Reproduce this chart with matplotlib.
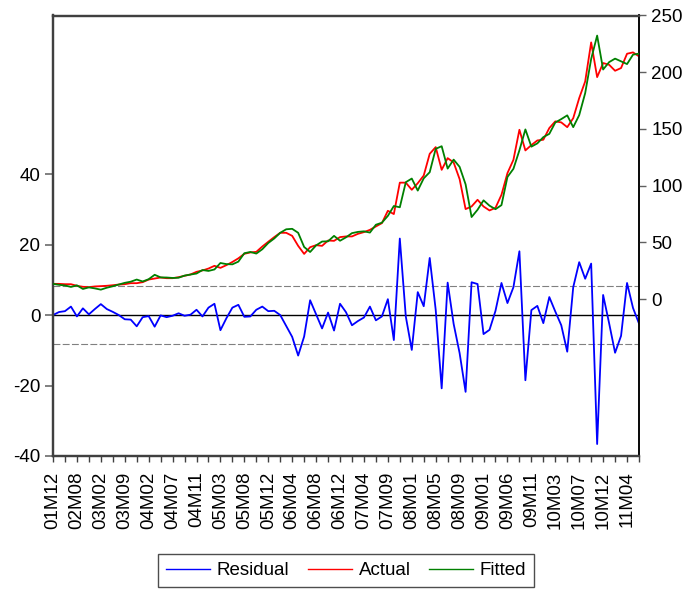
import matplotlib
matplotlib.use("Agg")
import matplotlib.pyplot as plt
from matplotlib.lines import Line2D
from matplotlib.ticker import FixedLocator

plt.rcParams['font.family'] = ['Liberation Sans', 'DejaVu Sans']

# Observation labels shown on the date axis (one every 4 observations)
tick_labels = ["01M12", "02M08", "03M02", "03M09", "04M02", "04M07", "04M11",
               "05M03", "05M08", "05M12", "06M04", "06M08", "06M12", "07M04",
               "07M09", "08M01", "08M05", "08M09", "09M01", "09M06", "09M11",
               "10M03", "10M07", "10M12", "11M04"]

residual = [0.0, 0.85, 1.1, 2.4, -0.4, 1.9, 0.2, 1.7, 3.1, 1.7,
            0.9, 0.0, -1.2, -1.3, -3.2, -0.6, -0.3, -3.3, -0.1, -0.6,
            -0.2, 0.5, -0.2, 0.1, 1.5, -0.4, 2.1, 3.2, -4.3, -0.9,
            2.1, 2.9, -0.5, -0.4, 1.5, 2.4, 1.1, 1.2, 0.0, -3.1,
            -6.2, -11.5, -6.1, 4.2, 0.2, -3.8, 0.7, -4.4, 3.2, 0.8,
            -2.9, -1.7, -0.7, 2.4, -1.5, -0.4, 4.5, -7.1, 21.7, -0.4,
            -9.9, 6.5, 2.5, 16.2, 1.5, -20.8, 9.2, -2.5, -10.8, -21.8,
            9.3, 8.8, -5.4, -4.2, 1.2, 9.1, 3.4, 7.9, 18.1, -18.5,
            1.4, 2.6, -2.3, 5.1, 1.0, -2.9, -10.4, 7.9, 15.0, 10.3,
            14.6, -36.6, 5.7, -2.3, -10.7, -5.9, 9.1, 2.0, -2.4]

actual = [13.5, 13.5, 13.2, 13.2, 11.8, 10.9, 10.6, 11.2, 11.5, 11.8,
          12.3, 12.9, 13.2, 14.1, 14.1, 15.0, 17.3, 18.2, 19.1, 18.5,
          18.5, 19.4, 20.6, 21.8, 24.1, 25.3, 27.0, 29.4, 27.6, 30.0,
          32.8, 36.0, 40.0, 41.2, 41.7, 46.4, 50.6, 54.7, 58.5, 58.5,
          55.8, 47.0, 39.9, 45.8, 47.6, 47.0, 51.7, 51.4, 54.7, 55.3,
          55.3, 57.6, 59.1, 61.1, 64.1, 67.0, 77.9, 75.0, 102.7, 102.7,
          96.4, 102.2, 109.0, 128.1, 134.0, 114.0, 124.3, 120.5, 105.8, 79.4,
          81.7, 87.6, 81.7, 78.2, 80.5, 92.0, 111.1, 122.8, 149.3, 131.1,
          135.8, 139.9, 140.5, 150.8, 156.7, 155.8, 151.6, 159.5, 177.2, 191.9,
          226.3, 195.7, 208.1, 206.6, 201.3, 203.7, 216.3, 217.5, 214.0]

fitted = [13.5, 12.65, 12.1, 10.8, 12.2, 9.0, 10.4, 9.5, 8.4, 10.1,
          11.4, 12.9, 14.4, 15.4, 17.3, 15.6, 17.6, 21.5, 19.2, 19.1,
          18.7, 18.9, 20.8, 21.7, 22.6, 25.7, 24.9, 26.2, 31.9, 30.9,
          30.7, 33.1, 40.5, 41.6, 40.2, 44.0, 49.5, 53.5, 58.5, 61.6,
          62.0, 58.5, 46.0, 41.6, 47.4, 50.8, 51.0, 55.8, 51.5, 54.5,
          58.2, 59.3, 59.8, 58.7, 65.6, 67.4, 73.4, 82.1, 81.0, 103.1,
          106.3, 95.7, 106.5, 111.9, 132.5, 134.8, 115.1, 123.0, 116.6, 101.2,
          72.4, 78.8, 87.1, 82.4, 79.3, 82.9, 107.7, 114.9, 131.2, 149.6,
          134.4, 137.3, 142.8, 145.7, 155.7, 158.7, 162.0, 151.6, 162.2, 181.6,
          211.7, 232.3, 202.4, 208.9, 212.0, 209.6, 207.2, 215.5, 216.4]

std_err = 8.2

left_ticks = [-40, -20, 0, 20, 40]
right_ticks = [0, 50, 100, 150, 200, 250]

W, H = 694, 589
n = len(actual)
x = list(range(n))

fig = plt.figure(figsize=(W / 100, H / 100), dpi=100)
ax = fig.add_axes([53 / W, 1 - 456 / H, (639 - 53) / W, (456 - 15.5) / H])
ax2 = ax.twinx()

FS = 13.5
lw = 1.3
blue, red, green = '#0000ff', '#ff0000', '#008000'

# residual panel (left scale)
ax.axhline(0, color='black', lw=1.0, zorder=1)
for lev in (std_err, -std_err):
    ax.axhline(lev, color='#808080', lw=0.8, dashes=(6.2, 2.1), zorder=1)
ax.plot(x, residual, color=blue, lw=lw, zorder=2)
ax.set_ylim(-40, 85)
ax.set_xlim(0, n - 1)
ax.yaxis.set_major_locator(FixedLocator(left_ticks))
ax.set_yticklabels([str(v) for v in left_ticks])

# actual / fitted (right scale)
ax2.plot(x, actual, color=red, lw=lw, zorder=2)
ax2.plot(x, fitted, color=green, lw=lw, zorder=3)
ax2.set_ylim(-138.2, 250)
ax2.yaxis.set_major_locator(FixedLocator(right_ticks))
ax2.set_yticklabels([str(v) for v in right_ticks])

# date axis
label_pos = list(range(0, n, 4))[:len(tick_labels)]
ax.set_xticks(label_pos)
ax.set_xticklabels(tick_labels, rotation=90, fontsize=FS, va='top')
ax.set_xticks([p for p in range(0, n, 2) if p % 4 != 0], minor=True)
ax.tick_params(axis='x', which='both', direction='out', length=4, width=1,
               color='#404040', pad=7)
ax.tick_params(axis='y', direction='out', length=6, width=1.4, color='#808080',
               labelsize=FS, pad=3)
ax2.tick_params(axis='y', direction='out', length=5, width=1, color='#606060',
                labelsize=FS, pad=4)

for a in (ax, ax2):
    for side in ('left', 'top', 'bottom'):
        a.spines[side].set_color('#404040')
        a.spines[side].set_linewidth(1.6)
    a.spines['right'].set_color('black')
    a.spines['right'].set_linewidth(1.1)

handles = [Line2D([], [], color=blue, lw=1.0),
           Line2D([], [], color=red, lw=1.0),
           Line2D([], [], color=green, lw=1.0)]
leg = fig.legend(handles, ['Residual', 'Actual', 'Fitted'], loc='center',
                 bbox_to_anchor=(346 / W, 1 - 570.5 / H), ncol=3, fontsize=FS,
                 frameon=True, fancybox=False, edgecolor='#202020',
                 handlelength=2.35, handletextpad=0.37, columnspacing=0.96,
                 borderpad=0.4, borderaxespad=0)
leg.get_frame().set_linewidth(1.0)

fig.savefig('out.png', dpi=100)
